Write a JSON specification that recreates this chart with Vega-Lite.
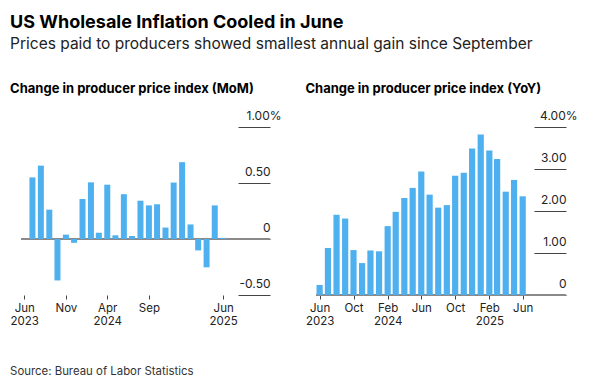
{
  "$schema": "https://vega.github.io/schema/vega-lite/v6.json",
  "background": "white",
  "padding": {"left": 10, "top": 13, "right": 5, "bottom": 10},
  "config": {"font": "Inter", "view": {"stroke": null}},
  "title": {
    "text": "US Wholesale Inflation Cooled in June",
    "subtitle": "Prices paid to producers showed smallest annual gain since September",
    "anchor": "start",
    "fontSize": 18,
    "fontWeight": "bold",
    "color": "#000000",
    "subtitleFontSize": 15.5,
    "subtitleColor": "#222222",
    "subtitlePadding": 5,
    "offset": 31
  },
  "datasets": {
    "ppi": [
      {"date": "2023-06-01", "mom": 0.0, "yoy": 0.24},
      {"date": "2023-07-01", "mom": 0.55, "yoy": 1.12},
      {"date": "2023-08-01", "mom": 0.655, "yoy": 1.91},
      {"date": "2023-09-01", "mom": 0.262, "yoy": 1.82},
      {"date": "2023-10-01", "mom": -0.37, "yoy": 1.07},
      {"date": "2023-11-01", "mom": 0.039, "yoy": 0.76},
      {"date": "2023-12-01", "mom": -0.034, "yoy": 1.06},
      {"date": "2024-01-01", "mom": 0.357, "yoy": 1.04},
      {"date": "2024-02-01", "mom": 0.506, "yoy": 1.64},
      {"date": "2024-03-01", "mom": 0.056, "yoy": 1.98},
      {"date": "2024-04-01", "mom": 0.485, "yoy": 2.31},
      {"date": "2024-05-01", "mom": 0.033, "yoy": 2.55},
      {"date": "2024-06-01", "mom": 0.4, "yoy": 2.94},
      {"date": "2024-07-01", "mom": 0.027, "yoy": 2.39},
      {"date": "2024-08-01", "mom": 0.342, "yoy": 2.08},
      {"date": "2024-09-01", "mom": 0.3, "yoy": 2.14},
      {"date": "2024-10-01", "mom": 0.31, "yoy": 2.84},
      {"date": "2024-11-01", "mom": 0.102, "yoy": 2.91},
      {"date": "2024-12-01", "mom": 0.504, "yoy": 3.49},
      {"date": "2025-01-01", "mom": 0.686, "yoy": 3.82},
      {"date": "2025-02-01", "mom": 0.13, "yoy": 3.44},
      {"date": "2025-03-01", "mom": -0.102, "yoy": 3.24},
      {"date": "2025-04-01", "mom": -0.253, "yoy": 2.46},
      {"date": "2025-05-01", "mom": 0.3, "yoy": 2.74},
      {"date": "2025-06-01", "mom": 0.01, "yoy": 2.35}
    ]
  },
  "vconcat": [
    {
      "title": {
        "text": "Source: Bureau of Labor Statistics",
        "orient": "bottom",
        "anchor": "start",
        "fontSize": 11.4,
        "fontWeight": "normal",
        "color": "#333333",
        "offset": 39
      },
      "bounds": "flush",
      "spacing": 46,
      "hconcat": [
        {
          "width": 249,
          "height": 168,
          "title": {
            "text": "Change in producer price index (MoM)",
            "anchor": "start",
            "fontSize": 13,
            "fontWeight": "bold",
            "color": "#000000",
            "offset": 13
          },
          "data": {"name": "ppi"},
          "layer": [
            {
              "mark": {"type": "rule", "color": "#8a8a8a", "strokeWidth": 1.5},
              "encoding": {"y": {"datum": 0, "type": "quantitative"}}
            },
            {
              "mark": {"type": "bar", "color": "#4fb0f0", "width": 6},
              "encoding": {
                "x": {
                  "field": "date",
                  "type": "temporal",
                  "scale": {
                    "type": "utc",
                    "padding": 0,
                    "domain": [
                      {"year": 2023, "month": 5, "date": 20, "utc": true},
                      {"year": 2025, "month": 11, "date": 20, "utc": true}
                    ]
                  },
                  "axis": {
                    "values": [
                      {"year": 2023, "month": 6, "date": 1, "utc": true},
                      {"year": 2023, "month": 11, "date": 1, "utc": true},
                      {"year": 2024, "month": 4, "date": 1, "utc": true},
                      {"year": 2024, "month": 9, "date": 1, "utc": true},
                      {"year": 2025, "month": 6, "date": 1, "utc": true}
                    ],
                    "title": null,
                    "domain": false,
                    "grid": false,
                    "tickSize": 4,
                    "tickColor": "#444444",
                    "labelExpr": "[utcFormat(datum.value, '%b'), indexof(['2023-06','2024-04','2025-06'], utcFormat(datum.value, '%Y-%m')) >= 0 ? utcFormat(datum.value, '%Y') : '']",
                    "labelFontSize": 11.5,
                    "labelColor": "#222222",
                    "labelPadding": 3,
                    "labelFlush": false,
                    "labelOverlap": false,
                    "labelLineHeight": 13
                  }
                },
                "y": {
                  "field": "mom",
                  "type": "quantitative",
                  "scale": {"domain": [-0.5, 1], "nice": false},
                  "axis": {
                    "orient": "right",
                    "values": [-0.5, 0, 0.5, 1],
                    "title": null,
                    "domain": false,
                    "ticks": false,
                    "grid": true,
                    "gridDash": [32, 1000],
                    "gridColor": "#444444",
                    "gridWidth": 1,
                    "labelAlign": "right",
                    "labelBaseline": "alphabetic",
                    "labelOffset": -8,
                    "labelPadding": {"condition": {"test": "datum.value == 1", "value": 11}, "value": 0},
                    "labelExpr": "datum.value == 1 ? '1.00%' : datum.value == 0 ? '0' : datum.value == 0.5 ? '0.50' : '-0.50'",
                    "labelFontSize": 12,
                    "labelColor": "#222222",
                    "labelOverlap": false,
                    "labelBound": false,
                    "labelFlush": false
                  }
                }
              }
            }
          ]
        },
        {
          "width": 250,
          "height": 168,
          "title": {
            "text": "Change in producer price index (YoY)",
            "anchor": "start",
            "fontSize": 13,
            "fontWeight": "bold",
            "color": "#000000",
            "offset": 13
          },
          "data": {"name": "ppi"},
          "layer": [
            {
              "mark": {"type": "rule", "color": "#8a8a8a", "strokeWidth": 1.5},
              "encoding": {"y": {"datum": 0, "type": "quantitative"}}
            },
            {
              "mark": {"type": "bar", "color": "#4fb0f0", "width": 6.2},
              "encoding": {
                "x": {
                  "field": "date",
                  "type": "temporal",
                  "scale": {
                    "type": "utc",
                    "padding": 0,
                    "domain": [
                      {"year": 2023, "month": 5, "date": 19, "utc": true},
                      {"year": 2025, "month": 11, "date": 4, "utc": true}
                    ]
                  },
                  "axis": {
                    "values": [
                      {"year": 2023, "month": 6, "date": 1, "utc": true},
                      {"year": 2023, "month": 10, "date": 1, "utc": true},
                      {"year": 2024, "month": 2, "date": 1, "utc": true},
                      {"year": 2024, "month": 6, "date": 1, "utc": true},
                      {"year": 2024, "month": 10, "date": 1, "utc": true},
                      {"year": 2025, "month": 2, "date": 1, "utc": true},
                      {"year": 2025, "month": 6, "date": 1, "utc": true}
                    ],
                    "title": null,
                    "domain": false,
                    "grid": false,
                    "tickSize": 4,
                    "tickColor": "#444444",
                    "labelExpr": "[utcFormat(datum.value, '%b'), indexof(['2023-06','2024-02','2025-02'], utcFormat(datum.value, '%Y-%m')) >= 0 ? utcFormat(datum.value, '%Y') : '']",
                    "labelFontSize": 11.5,
                    "labelColor": "#222222",
                    "labelPadding": 3,
                    "labelFlush": false,
                    "labelOverlap": false,
                    "labelLineHeight": 13
                  }
                },
                "y": {
                  "field": "yoy",
                  "type": "quantitative",
                  "scale": {"domain": [0, 4], "nice": false},
                  "axis": {
                    "orient": "right",
                    "values": [0, 1, 2, 3, 4],
                    "title": null,
                    "domain": false,
                    "ticks": false,
                    "grid": true,
                    "gridDash": [32, 1000],
                    "gridColor": "#444444",
                    "gridWidth": 1,
                    "labelAlign": "right",
                    "labelBaseline": "alphabetic",
                    "labelOffset": -8,
                    "labelPadding": {"condition": {"test": "datum.value == 4", "value": 11}, "value": 0},
                    "labelExpr": "datum.value == 4 ? '4.00%' : datum.value == 0 ? '0' : format(datum.value, '.2f')",
                    "labelFontSize": 12,
                    "labelColor": "#222222",
                    "labelOverlap": false,
                    "labelBound": false,
                    "labelFlush": false
                  }
                }
              }
            }
          ]
        }
      ]
    }
  ]
}
